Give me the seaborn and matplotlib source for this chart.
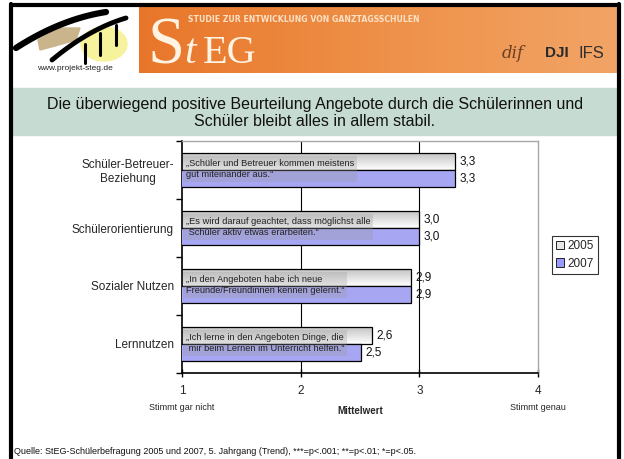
import numpy as np
import pandas as pd
import matplotlib
matplotlib.use("Agg")
import matplotlib.pyplot as plt
import matplotlib.transforms as mtransforms
from matplotlib.patches import Rectangle, Ellipse, Polygon, Patch
import seaborn as sns

# data
categories = ["Schüler-Betreuer-\nBeziehung", "Schülerorientierung", "Sozialer Nutzen", "Lernnutzen"]
years = ["2005", "2007"]
values_2005 = [3.30, 3.00, 2.93, 2.60]
values_2007 = [3.30, 3.00, 2.93, 2.51]
quotes = [
    "„Schüler und Betreuer kommen meistens\ngut miteinander aus.“",
    "„Es wird darauf geachtet, dass möglichst alle\n Schüler aktiv etwas erarbeiten.“",
    "„In den Angeboten habe ich neue\nFreunde/Freundinnen kennen gelernt.“",
    "„Ich lerne in den Angeboten Dinge, die\n mir beim Lernen im Unterricht helfen.“",
]
x_ticks = [1, 2, 3, 4]
title = ("Die überwiegend positive Beurteilung Angebote durch die Schülerinnen und\n"
         "Schüler bleibt alles in allem stabil.")
source = ("Quelle: StEG-Schülerbefragung 2005 und 2007, 5. Jahrgang (Trend), "
          "***=p<.001; **=p<.01; *=p<.05.")

df = pd.DataFrame({
    "Kategorie": categories * 2,
    "Jahr": [years[0]] * 4 + [years[1]] * 4,
    "Mittelwert": values_2005 + values_2007,
})

sns.set_theme(style="white")
plt.rcParams["font.family"] = ["Liberation Sans", "DejaVu Sans"]

W, H = 624, 459
fig = plt.figure(figsize=(W / 100, H / 100), dpi=100)
fig.patch.set_facecolor("white")

# background layer in pixel coordinates (slide decoration)
bg = fig.add_axes([0, 0, 1, 1], zorder=0)
bg.axis("off")

# orange banner with gradient
grad = np.linspace(0, 1, 256).reshape(1, -1)
cmap = matplotlib.colors.LinearSegmentedColormap.from_list("org", ["#E8762A", "#EE9048", "#F2A466"])
bg.imshow(grad, cmap=cmap, extent=(139, 617, 73, 5), aspect="auto", zorder=1)
bg.set_xlim(0, W)
bg.set_ylim(H, 0)

# left logo
bg.add_patch(Ellipse((104, 44), 46, 34, color="#F7F29C", zorder=2))
bg.add_patch(Polygon([[38, 40], [58, 28], [80, 28], [76, 40], [55, 46], [40, 50]],
                     closed=True, color="#C9B48C", zorder=2))
t = np.linspace(0, 1, 50)
bg.plot(16 + 90 * t, 48 - 58 * t + 22 * t ** 2, color="black", lw=4.5, solid_capstyle="round", zorder=3)
bg.plot(52 + 74 * t, 60 - 62 * t + 20 * t ** 2, color="black", lw=3.5, solid_capstyle="round", zorder=3)
for sx, y0, y1 in [(85, 44, 63), (100, 33, 55), (116, 25, 45)]:
    bg.plot([sx, sx], [y0, y1], color="black", lw=2.2, solid_capstyle="round", zorder=3)
bg.text(75, 69, "www.projekt-steg.de", fontsize=6, ha="center", va="center", color="#222222", zorder=4)

# StEG lettering
cream = "#FFF3E3"
bg.text(148, 63, "S", fontsize=48, family="Liberation Serif", color=cream, va="baseline", zorder=4)
bg.text(184, 63, "t", fontsize=30, family="Liberation Serif", style="italic", color=cream, va="baseline", zorder=4)
bg.text(203, 63, "EG", fontsize=29, family="Liberation Serif", color=cream, va="baseline", zorder=4)
bg.text(188, 20, "STUDIE ZUR ENTWICKLUNG VON GANZTAGSSCHULEN", fontsize=5.6, fontweight="bold",
        family="DejaVu Sans", color="#FBE2C6", va="center", zorder=4)
bg.text(502, 54, "dif", fontsize=12, family="DejaVu Serif", style="italic", color="#6B4028",
        va="center", zorder=4)
bg.text(545, 53, "DJI", fontsize=11, fontweight="bold", color="#2A2A2A", va="center", zorder=4)
bg.text(578, 53, "IFS", fontsize=12, color="#303030", va="center", zorder=4)

# title band
bg.add_patch(Rectangle((13, 88), 604, 47, color="#C6DBD1", zorder=1))
bg.text(315, 113, title, fontsize=11.5, ha="center", va="center", linespacing=1.1, color="#111111", zorder=4)

# slide frame
bg.plot([11, 11], [4, H], color="black", lw=3, zorder=5)
bg.plot([619, 619], [4, H], color="black", lw=3, zorder=5)
bg.plot([11, 619], [4.5, 4.5], color="black", lw=3, zorder=5)

bg.text(14, 451, source, fontsize=6.5, ha="left", va="center", color="#111111", zorder=4)

# chart
ax = fig.add_axes([182 / W, (H - 373) / H, 356 / W, 232 / H], zorder=2)
ax.set_facecolor("white")
sns.barplot(data=df, y="Kategorie", x="Mittelwert", hue="Jahr", orient="h",
            hue_order=years, palette=["white", "#9999FF"], edgecolor="black",
            linewidth=0.9, width=0.57, legend=False, ax=ax, zorder=3)

ax.set_xlim(1, 4)
ax.set_ylim(3.5, -0.5)

# gradient fill for 2005 bars (only the visible part, from x=1)
gray_cmap = matplotlib.colors.LinearSegmentedColormap.from_list("g", ["#C4C4C4", "#FFFFFF"])
vgrad = np.linspace(0, 1, 64).reshape(-1, 1)
for bar in ax.containers[0]:
    bar.set_facecolor((1, 1, 1, 0))
    x0, y0, w, h = bar.get_x(), bar.get_y(), bar.get_width(), bar.get_height()
    ax.imshow(vgrad, cmap=gray_cmap, extent=(1, x0 + w, y0 + h, y0), origin="upper",
              aspect="auto", zorder=2)
ax.set_xlim(1, 4)
ax.set_ylim(3.5, -0.5)

for xv in [2, 3]:
    ax.axvline(xv, color="black", lw=0.8, zorder=1)

for spine in ["left", "bottom"]:
    ax.spines[spine].set_color("black")
    ax.spines[spine].set_linewidth(1.2)
for spine in ["top", "right"]:
    ax.spines[spine].set_color("#A8A8A8")
    ax.spines[spine].set_linewidth(1.0)

# value labels
for cont, vals in zip(ax.containers, [values_2005, values_2007]):
    ax.bar_label(cont, labels=[f"{v:.1f}".replace(".", ",") for v in vals],
                 padding=3, fontsize=8.5, color="#111111")

# quotes inside the bars
for i, q in enumerate(quotes):
    ax.text(1.03, i - 0.02, q, fontsize=6.7, ha="left", va="center", linespacing=1.25,
            color="#222222", zorder=5,
            bbox=dict(boxstyle="square,pad=0.3", fc="#9C9C9C", ec="none", alpha=0.3))

# axes ticks
ax.set_xticks(x_ticks)
ax.set_xticklabels([str(v) for v in x_ticks], fontsize=8.5)
ax.tick_params(axis="x", direction="inout", length=6, width=1, color="black", pad=6, bottom=True)
ax.set_yticks(range(len(categories)))
ax.set_yticklabels(categories, fontsize=8.5)
for lab in ax.get_yticklabels():
    lab.set_multialignment("center")
ax.tick_params(axis="y", which="major", length=0, pad=6, left=False)
ax.set_yticks(np.arange(-0.5, len(categories)), minor=True)
ax.tick_params(axis="y", which="minor", direction="out", length=4, width=1, color="black", left=True)

ax.set_ylabel("")
ax.set_xlabel("Mittelwert", fontsize=7, fontweight="bold", labelpad=6)
trans = mtransforms.blended_transform_factory(ax.transData, ax.transAxes)
ax.text(1, -0.147, "Stimmt gar nicht", fontsize=6.5, ha="center", va="center", transform=trans)
ax.text(4, -0.147, "Stimmt genau", fontsize=6.5, ha="center", va="center", transform=trans)

handles = [Patch(facecolor="#E6E6E6", edgecolor="#222222", linewidth=0.7),
           Patch(facecolor="#9999FF", edgecolor="#222222", linewidth=0.7)]
leg = ax.legend(handles, years, loc="upper left", bbox_to_anchor=(1.039, 0.59),
                fontsize=8.5, frameon=True, fancybox=False, handlelength=0.7, handleheight=0.7,
                handletextpad=0.3, borderpad=0.35, labelspacing=0.45, borderaxespad=0)
leg.get_frame().set_edgecolor("black")
leg.get_frame().set_linewidth(0.8)

fig.savefig("out.png", dpi=100)
